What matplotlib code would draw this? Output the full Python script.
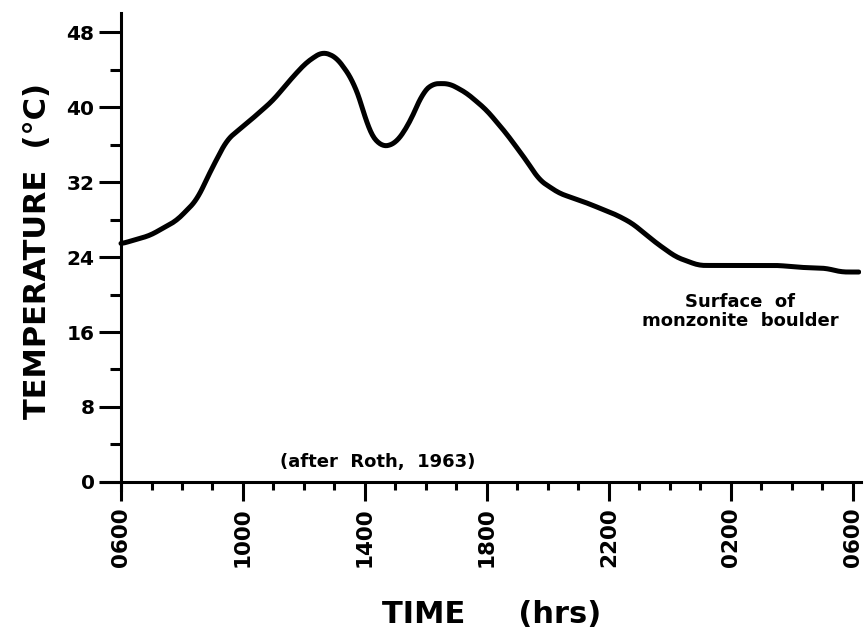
import numpy as np
from matplotlib import pyplot as plt
from matplotlib.ticker import MultipleLocator

# hours after 0600
hours = [0.0, 0.95, 1.83, 2.49, 2.91, 3.47, 4.32, 4.98, 5.63, 6.09, 6.61, 7.07,
         7.59, 7.92, 8.15, 8.58, 9.03, 9.46, 9.89, 10.21, 10.77, 11.33, 11.98,
         12.63, 13.29, 13.72, 14.37, 15.25, 16.24, 16.76, 17.55, 18.2, 18.95,
         20.26, 21.57, 22.23, 23.11, 23.63, 24.19]
temp = [25.4, 26.3, 27.9, 30.1, 33.0, 36.5, 38.8, 40.7, 43.2, 44.8, 45.9, 45.3,
        42.9, 40.0, 37.2, 35.7, 36.2, 38.3, 41.5, 42.5, 42.5, 41.5, 39.7,
        37.2, 34.3, 32.2, 30.8, 29.8, 28.5, 27.6, 25.5, 24.0, 23.1,
        23.1, 23.1, 22.9, 22.8, 22.4, 22.4]

xticks = [0, 4, 8, 12, 16, 20, 24]
xticklabels = ["0600", "1000", "1400", "1800", "2200", "0200", "0600"]
yticks = [0, 8, 16, 24, 32, 40, 48]

plt.rcParams["font.family"] = "DejaVu Sans"
plt.rcParams["font.weight"] = "bold"

fig = plt.figure(figsize=(8.67, 6.43), dpi=100)
ax = fig.add_axes([0.1167, 0.2373, 0.8759, 0.742])

# smooth the hand-drawn trace a little
xs = np.linspace(hours[0], hours[-1], 400)
ys = np.interp(xs, hours, temp)
k = np.ones(7) / 7
ys = np.convolve(np.pad(ys, 3, mode="edge"), k, mode="valid")
ax.plot(xs, ys, color="black", lw=3.6, solid_capstyle="round")

ax.set_xlim(-0.65, 24.25)
ax.set_ylim(-0.9, 50)

for s in ("top", "right"):
    ax.spines[s].set_visible(False)
ax.spines["left"].set_position(("data", 0))
ax.spines["bottom"].set_position(("data", 0))
ax.spines["left"].set_linewidth(2.2)
ax.spines["bottom"].set_linewidth(2.2)

ax.set_xticks(xticks)
ax.set_xticklabels(xticklabels, rotation=90, fontsize=15.5, fontweight="bold")
ax.xaxis.set_minor_locator(MultipleLocator(1))
ax.set_yticks(yticks)
ax.set_yticklabels([str(v) for v in yticks], fontsize=14.5, fontweight="bold")
ax.yaxis.set_minor_locator(MultipleLocator(4))

ax.tick_params(axis="x", which="major", direction="out", length=14, width=2.2, pad=4)
ax.tick_params(axis="x", which="minor", direction="out", length=6, width=2.2)
ax.tick_params(axis="y", which="major", direction="out", length=16, width=2.2, pad=3)
ax.tick_params(axis="y", which="minor", direction="out", length=8, width=2.2)

ax.text(8.4, 1.2, "(after  Roth,  1963)", fontsize=13, fontweight="bold", ha="center", va="bottom")
ax.text(20.3, 18.2, "Surface  of\nmonzonite  boulder", fontsize=13, fontweight="bold",
        ha="center", va="center", linespacing=1.1)

fig.text(0.043, 0.61, "TEMPERATURE  (\u00b0C)", rotation=90, fontsize=22,
         fontweight="bold", ha="center", va="center")
fig.text(0.567, 0.045, "TIME     (hrs)", fontsize=22, fontweight="bold",
         ha="center", va="center")

fig.savefig("out.png", dpi=100)
